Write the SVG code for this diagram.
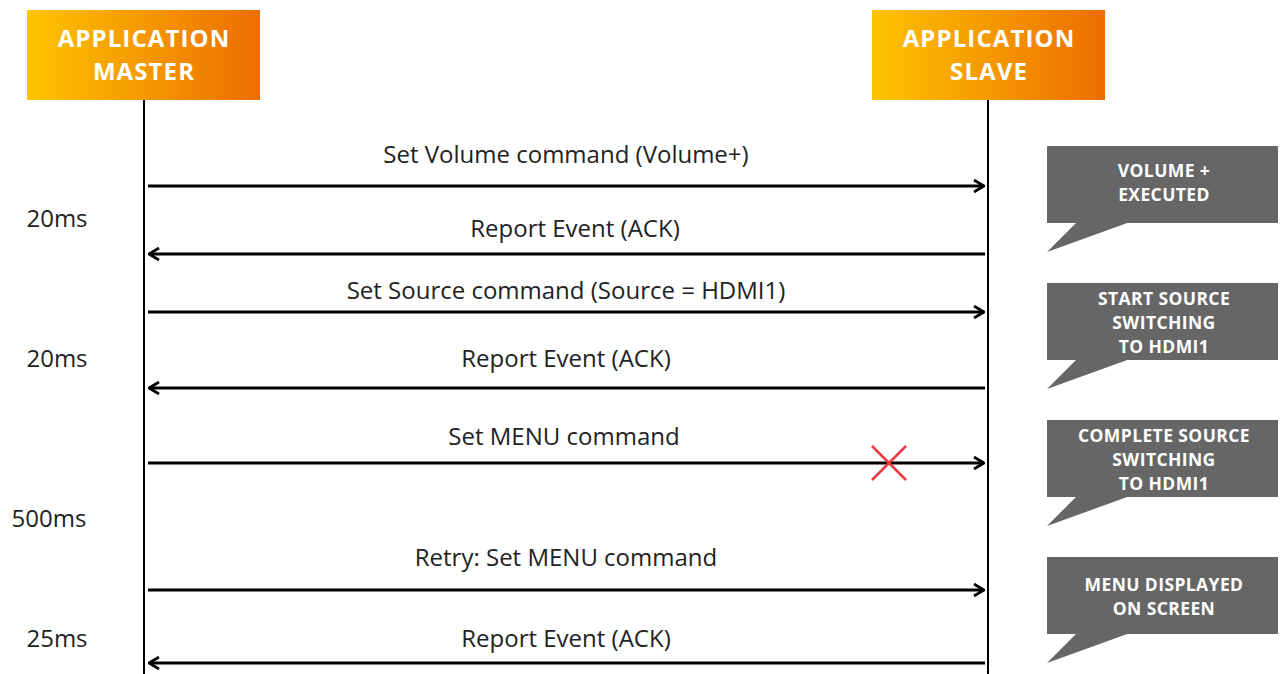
<svg xmlns="http://www.w3.org/2000/svg" width="1281" height="674" viewBox="0 0 1281 674">
<style>
.hdr{font-family:"Open Sans","Liberation Sans",sans-serif;font-weight:bold;font-size:24px;letter-spacing:1.1px;fill:#fff;text-anchor:middle}
.lbl{font-family:"Open Sans","Liberation Sans",sans-serif;font-size:24px;fill:#222;text-anchor:middle}
.time{font-family:"Open Sans","Liberation Sans",sans-serif;font-size:24px;fill:#222;text-anchor:middle}
.co{font-family:"Open Sans","Liberation Sans",sans-serif;font-weight:bold;font-size:17.5px;letter-spacing:0.4px;fill:#fff;text-anchor:middle}
.life{stroke:#000;stroke-width:2}
.msg{stroke:#000;stroke-width:3;fill:none}
.bubble{fill:#666666}
</style>
<defs>
<linearGradient id="g" x1="0" y1="0" x2="1" y2="0">
<stop offset="0" stop-color="#FDC400"/>
<stop offset="1" stop-color="#EC6D00"/>
</linearGradient>
<marker id="ah" viewBox="0 0 12 14" refX="11" refY="7" markerWidth="12" markerHeight="14" markerUnits="userSpaceOnUse" orient="auto">
<path d="M1,1 L11,7 L1,13" fill="none" stroke="#000" stroke-width="2.8"/>
</marker>
</defs>
<rect width="1281" height="674" fill="#fff"/>

<g id="master">
<rect x="27" y="10" width="233" height="90" fill="url(#g)"/>
<text class="hdr" x="144" y="47">APPLICATION</text>
<text class="hdr" x="144" y="80">MASTER</text>
<line class="life" x1="144" y1="100" x2="144" y2="674"/>
</g>
<g id="slave">
<rect x="872" y="10" width="233" height="90" fill="url(#g)"/>
<text class="hdr" x="989" y="47">APPLICATION</text>
<text class="hdr" x="989" y="80">SLAVE</text>
<line class="life" x1="988" y1="100" x2="988" y2="674"/>
</g>

<g id="connectors">
<line class="msg" x1="148" y1="186" x2="984" y2="186" marker-end="url(#ah)"/>
<line class="msg" x1="985" y1="254" x2="149" y2="254" marker-end="url(#ah)"/>
<line class="msg" x1="148" y1="312" x2="984" y2="312" marker-end="url(#ah)"/>
<line class="msg" x1="985" y1="388" x2="149" y2="388" marker-end="url(#ah)"/>
<line class="msg" x1="148" y1="463" x2="984" y2="463" marker-end="url(#ah)"/>
<line class="msg" x1="148" y1="590" x2="984" y2="590" marker-end="url(#ah)"/>
<line class="msg" x1="985" y1="663" x2="149" y2="663" marker-end="url(#ah)"/>
<g id="lost" stroke="#E8393E" stroke-width="2.5">
<line x1="872" y1="446" x2="906" y2="480"/>
<line x1="906" y1="446" x2="872" y2="480"/>
</g>
</g>

<g id="labels">
<text class="lbl" x="566" y="163">Set Volume command (Volume+)</text>
<text class="lbl" x="575" y="237">Report Event (ACK)</text>
<text class="lbl" x="566" y="299">Set Source command (Source = HDMI1)</text>
<text class="lbl" x="566" y="367">Report Event (ACK)</text>
<text class="lbl" x="564" y="445">Set MENU command</text>
<text class="lbl" x="566" y="566">Retry: Set MENU command</text>
<text class="lbl" x="566" y="647">Report Event (ACK)</text>
</g>

<g id="times">
<text class="time" x="57" y="227">20ms</text>
<text class="time" x="57" y="367">20ms</text>
<text class="time" x="49" y="527">500ms</text>
<text class="time" x="57" y="647">25ms</text>
</g>

<g id="callout1">
<rect class="bubble" x="1047" y="146" width="231" height="77"/>
<polygon class="bubble" points="1077,222 1130,222 1047,252"/>
<text class="co" x="1164" y="177">VOLUME +</text>
<text class="co" x="1164" y="201">EXECUTED</text>
</g>
<g id="callout2">
<rect class="bubble" x="1047" y="283" width="231" height="77"/>
<polygon class="bubble" points="1077,359 1130,359 1047,389"/>
<text class="co" x="1164" y="305">START SOURCE</text>
<text class="co" x="1164" y="329">SWITCHING</text>
<text class="co" x="1164" y="353">TO HDMI1</text>
</g>
<g id="callout3">
<rect class="bubble" x="1047" y="420" width="231" height="77"/>
<polygon class="bubble" points="1077,496 1130,496 1047,526"/>
<text class="co" x="1164" y="442">COMPLETE SOURCE</text>
<text class="co" x="1164" y="466">SWITCHING</text>
<text class="co" x="1164" y="490">TO HDMI1</text>
</g>
<g id="callout4">
<rect class="bubble" x="1047" y="557" width="231" height="77"/>
<polygon class="bubble" points="1077,633 1130,633 1047,663"/>
<text class="co" x="1164" y="591">MENU DISPLAYED</text>
<text class="co" x="1164" y="615">ON SCREEN</text>
</g>
</svg>
